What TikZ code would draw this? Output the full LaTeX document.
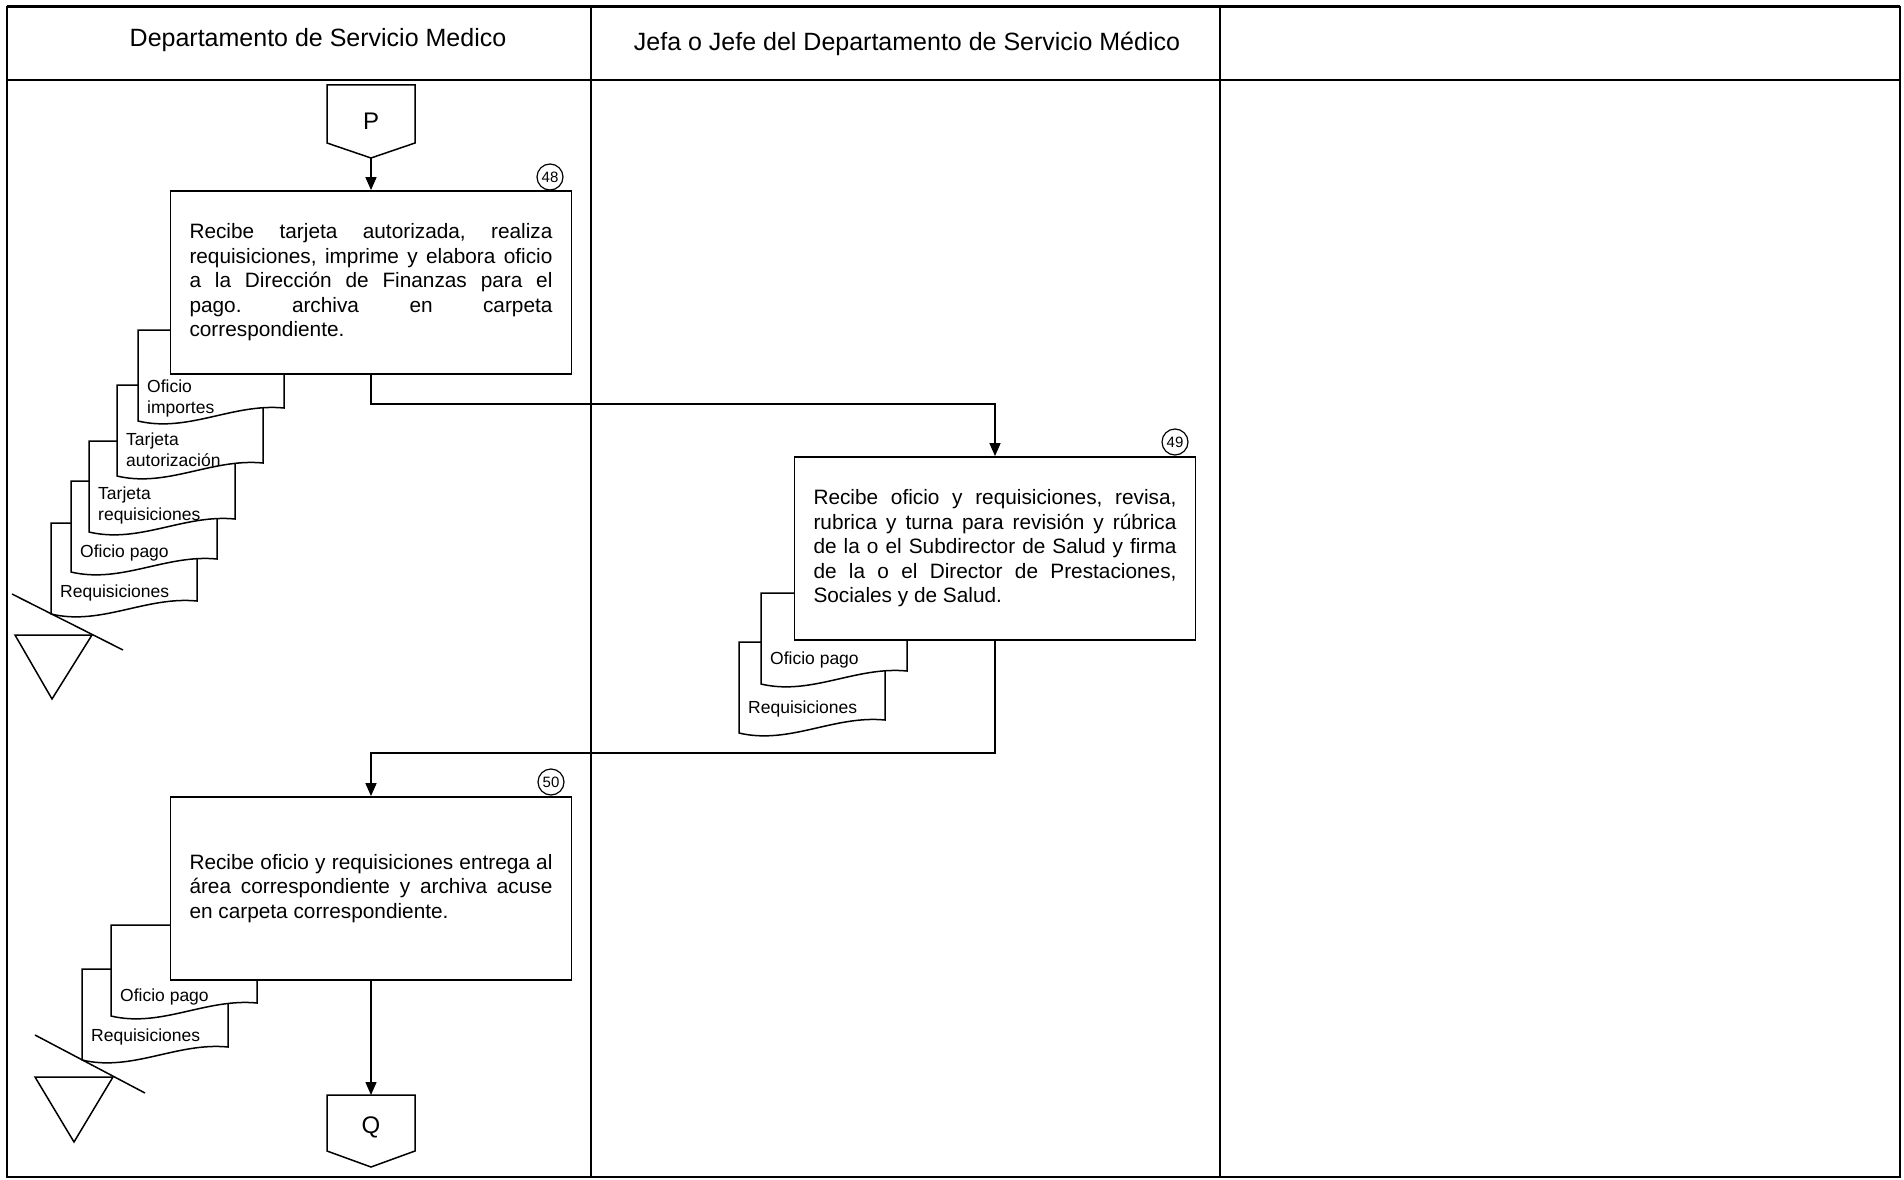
\documentclass[tikz,border=0pt]{standalone}
\usepackage{fontspec}
\setmainfont{Liberation Sans}
\usetikzlibrary{arrows.meta}
\frenchspacing

% hoja de documento: nombre, izquierda, arriba, texto, linea base
\newcommand{\docsheet}[5]{%
  \draw[docline] (#2,#3) -- ({#2+146},#3) -- ({#2+146},{#3+78})
    .. controls ({#2+95},{#3+73}) and ({#2+50},{#3+103}) .. (#2,{#3+91}) -- cycle;
  \node[doclabel] (#1) at ({#2+9},{#3+#5-12.6}) {#4};
}

\begin{document}
\begin{tikzpicture}[x=1pt, y=-1pt,
    frame/.style={line width=1.6pt},
    lanehead/.style={font=\fontsize{25}{30}\selectfont},
    actbox/.style={draw, fill=white, line width=1.8pt, minimum width=401pt,
      minimum height=183pt, text width=363pt, align=justify, inner sep=0pt,
      font=\fontsize{20.8}{24.5}\selectfont},
    stepnum/.style={draw, circle, fill=white, line width=1.2pt, minimum size=26pt,
      inner sep=0pt, font=\fontsize{15}{15}\selectfont},
    docline/.style={draw, fill=white, line width=1.5pt},
    doclabel/.style={inner sep=0pt, anchor=north west, align=left,
      font=\fontsize{17.5}{21}\selectfont},
    connlabel/.style={font=\fontsize{24}{24}\selectfont},
    flow/.style={line width=1.5pt, -{Triangle[length=13pt,width=11pt]}}]
  \useasboundingbox (0,0) rectangle (1904,1180);

  % marco y carriles
  \draw[frame] (7,7) rectangle (1900,1177);
  \draw[line width=3pt] (7,7) -- (1900,7);
  \draw[line width=2.4pt] (7,80) -- (1900,80);
  \draw[frame] (591,7) -- (591,1177);
  \draw[frame] (1220,7) -- (1220,1177);
  \node[lanehead] (lane 1) at (318,40) {Departamento de Servicio Medico};
  \node[lanehead] (lane 2) at (907,44) {Jefa o Jefe del Departamento de Servicio Médico};

  % conector P
  \draw[docline] (327,85) -- (415,85) -- (415,143) -- (371,158) -- (327,143) -- cycle;
  \node[connlabel] (conn p) at (371,121) {P};
  \coordinate (p tip) at (371,158);

  % actividad 48
  \docsheet{doc 48 5}{51}{523}{Requisiciones}{74}
  \docsheet{doc 48 4}{71}{481}{Oficio pago}{76}
  \docsheet{doc 48 3}{89}{441}{Tarjeta\\requisiciones}{58}
  \docsheet{doc 48 2}{117}{385}{Tarjeta\\autorización}{60}
  \docsheet{doc 48 1}{138}{330}{Oficio\\importes}{62}
  \draw[line width=1.5pt] (15,635) -- (92,635) -- (52,699) -- cycle;
  \draw[line width=1.5pt] (12,594) -- (123,650);
  \node[actbox] (box 48) at (371,282.5) {Recibe tarjeta autorizada, realiza\linebreak
    requisiciones, imprime y elabora oficio\linebreak
    a la Dirección de Finanzas para el\linebreak
    pago. archiva en carpeta\linebreak
    correspondiente.};
  \node[stepnum] (num 48) at (550,177) {48};

  % actividad 49
  \docsheet{doc 49 2}{739}{642}{Requisiciones}{71}
  \docsheet{doc 49 1}{761}{593}{Oficio pago}{71}
  \node[actbox] (box 49) at (995,548.5) {Recibe oficio y requisiciones, revisa,\linebreak
    rubrica y turna para revisión y rúbrica\linebreak
    de la o el Subdirector de Salud y firma\linebreak
    de la o el Director de Prestaciones,\linebreak
    Sociales y de Salud.};
  \node[stepnum] (num 49) at (1175,442) {49};

  % actividad 50
  \docsheet{doc 50 2}{82}{969}{Requisiciones}{72}
  \docsheet{doc 50 1}{111}{925}{Oficio pago}{76}
  \draw[line width=1.5pt] (35,1077) -- (113,1077) -- (74,1142) -- cycle;
  \draw[line width=1.5pt] (35,1035) -- (145,1093);
  \node[actbox] (box 50) at (371,888.5) {Recibe oficio y requisiciones entrega al\linebreak
    área correspondiente y archiva acuse\linebreak
    en carpeta correspondiente.};
  \node[stepnum] (num 50) at (551,782) {50};

  % conector Q
  \draw[docline] (327,1095) -- (415,1095) -- (415,1151) -- (371,1167) -- (327,1151) -- cycle;
  \node[connlabel] (conn q) at (371,1127) {Q};
  \coordinate (q top) at (371,1095);

  % flujo
  \draw[flow] (p tip) -- (box 48.north);
  \draw[flow] (box 48.south) -- ++(0,29) -| (box 49.north);
  \draw[flow] (box 49.south) -- ++(0,112) -| (box 50.north);
  \draw[flow] (box 50.south) -- (q top);
\end{tikzpicture}
\end{document}
